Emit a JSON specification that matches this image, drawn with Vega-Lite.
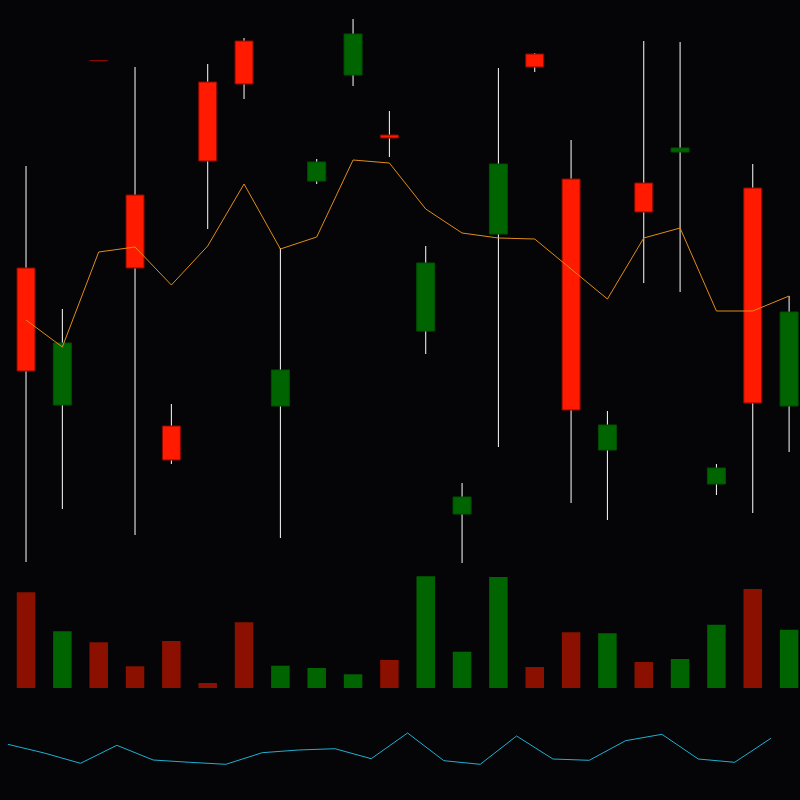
{
  "$schema": "https://vega.github.io/schema/vega-lite/v6.json",
  "width": 800,
  "height": 800,
  "autosize": {"type": "fit", "contains": "padding"},
  "padding": 0,
  "background": "#050507",
  "config": {"view": {"stroke": null}},
  "data": {"values": [
    {"i": 0, "dir": "down", "high": 63.4, "open": 53.2, "close": 42.9, "low": 23.8, "ma": 48.0, "vol": 9570, "ind": 5.57},
    {"i": 1, "dir": "up", "high": 49.1, "open": 39.5, "close": 45.7, "low": 29.1, "ma": 45.3, "vol": 5670, "ind": 4.7},
    {"i": 2, "dir": "down", "high": 74.0, "open": 73.95, "close": 73.93, "low": 73.9, "ma": 54.8, "vol": 4570, "ind": 3.67},
    {"i": 3, "dir": "down", "high": 73.3, "open": 60.5, "close": 53.2, "low": 26.5, "ma": 55.3, "vol": 2170, "ind": 5.47},
    {"i": 4, "dir": "down", "high": 39.6, "open": 37.4, "close": 34.0, "low": 33.6, "ma": 51.5, "vol": 4700, "ind": 4.0},
    {"i": 5, "dir": "down", "high": 73.6, "open": 71.8, "close": 63.9, "low": 57.1, "ma": 55.4, "vol": 500, "ind": 3.77},
    {"i": 6, "dir": "down", "high": 76.2, "open": 75.9, "close": 71.6, "low": 70.1, "ma": 61.6, "vol": 6570, "ind": 3.57},
    {"i": 7, "dir": "up", "high": 55.2, "open": 39.4, "close": 43.0, "low": 26.2, "ma": 55.1, "vol": 2230, "ind": 4.73},
    {"i": 8, "dir": "up", "high": 64.1, "open": 61.9, "close": 63.8, "low": 61.6, "ma": 56.3, "vol": 2000, "ind": 5.0},
    {"i": 9, "dir": "up", "high": 78.1, "open": 72.5, "close": 76.6, "low": 71.4, "ma": 64.0, "vol": 1370, "ind": 5.13},
    {"i": 10, "dir": "down", "high": 68.9, "open": 66.5, "close": 66.2, "low": 64.3, "ma": 63.7, "vol": 2800, "ind": 4.13},
    {"i": 11, "dir": "up", "high": 55.4, "open": 46.9, "close": 53.7, "low": 44.6, "ma": 59.1, "vol": 11170, "ind": 6.7},
    {"i": 12, "dir": "up", "high": 31.7, "open": 28.6, "close": 30.3, "low": 23.7, "ma": 56.7, "vol": 3630, "ind": 3.93},
    {"i": 13, "dir": "up", "high": 73.2, "open": 56.6, "close": 63.6, "low": 35.3, "ma": 56.2, "vol": 11100, "ind": 3.57},
    {"i": 14, "dir": "down", "high": 74.7, "open": 74.6, "close": 73.3, "low": 72.8, "ma": 56.1, "vol": 2100, "ind": 6.4},
    {"i": 15, "dir": "down", "high": 66.0, "open": 62.1, "close": 39.0, "low": 29.7, "ma": 53.1, "vol": 5570, "ind": 4.1},
    {"i": 16, "dir": "up", "high": 38.9, "open": 35.0, "close": 37.5, "low": 28.0, "ma": 50.1, "vol": 5470, "ind": 3.97},
    {"i": 17, "dir": "down", "high": 75.9, "open": 61.7, "close": 58.8, "low": 51.7, "ma": 56.2, "vol": 2600, "ind": 5.93},
    {"i": 18, "dir": "up", "high": 75.8, "open": 64.8, "close": 65.2, "low": 50.8, "ma": 57.2, "vol": 2900, "ind": 6.57},
    {"i": 19, "dir": "up", "high": 33.6, "open": 31.6, "close": 33.2, "low": 30.5, "ma": 48.9, "vol": 6330, "ind": 4.1},
    {"i": 20, "dir": "down", "high": 63.6, "open": 61.2, "close": 39.7, "low": 28.7, "ma": 48.9, "vol": 9900, "ind": 3.77},
    {"i": 21, "dir": "up", "high": 50.4, "open": 39.4, "close": 48.8, "low": 34.8, "ma": 50.4, "vol": 5830, "ind": 6.17}
  ]},
  "layer": [
    {
      "mark": {"type": "rule", "color": "#ffffff", "strokeWidth": 1, "clip": true},
      "encoding": {
        "x": {"field": "i", "type": "quantitative", "scale": {"domain": [-0.716, 21.3], "nice": false, "zero": false, "padding": 0}, "axis": null},
        "y": {"field": "high", "type": "quantitative", "scale": {"domain": [0, 80], "nice": false, "zero": false}, "axis": null},
        "y2": {"field": "low"}
      }
    },
    {
      "mark": {"type": "bar", "width": 18, "strokeWidth": 1, "clip": true},
      "encoding": {
        "x": {"field": "i", "type": "quantitative", "scale": {"domain": [-0.716, 21.3], "nice": false, "zero": false, "padding": 0}, "axis": null},
        "y": {"field": "open", "type": "quantitative", "scale": {"domain": [0, 80], "nice": false, "zero": false}, "axis": null},
        "y2": {"field": "close"},
        "fill": {"condition": {"test": "datum.dir === 'down'", "value": "#ff1a00"}, "value": "#006400"},
        "stroke": {"condition": {"test": "datum.dir === 'down'", "value": "#8b0a00"}, "value": "#005000"}
      }
    },
    {
      "mark": {"type": "line", "color": "#e08c1a", "strokeWidth": 1, "clip": true},
      "encoding": {
        "x": {"field": "i", "type": "quantitative", "scale": {"domain": [-0.716, 21.3], "nice": false, "zero": false, "padding": 0}, "axis": null},
        "y": {"field": "ma", "type": "quantitative", "scale": {"domain": [0, 80], "nice": false, "zero": false}, "axis": null}
      }
    },
    {
      "mark": {"type": "bar", "width": 18.5, "clip": true},
      "encoding": {
        "x": {"field": "i", "type": "quantitative", "scale": {"domain": [-0.716, 21.3], "nice": false, "zero": false, "padding": 0}, "axis": null},
        "y": {"field": "vol", "type": "quantitative", "scale": {"domain": [-11200, 68800], "nice": false, "zero": false}, "axis": null},
        "y2": {"datum": 0},
        "color": {"condition": {"test": "datum.dir === 'down'", "value": "#8b1000"}, "value": "#006400"}
      }
    },
    {
      "mark": {"type": "line", "color": "#1fb0d0", "strokeWidth": 1, "xOffset": -18.17, "clip": true},
      "encoding": {
        "x": {"field": "i", "type": "quantitative", "scale": {"domain": [-0.716, 21.3], "nice": false, "zero": false, "padding": 0}, "axis": null},
        "y": {"field": "ind", "type": "quantitative", "scale": {"domain": [0, 80], "nice": false, "zero": false}, "axis": null}
      }
    }
  ],
  "resolve": {"scale": {"y": "independent"}}
}
